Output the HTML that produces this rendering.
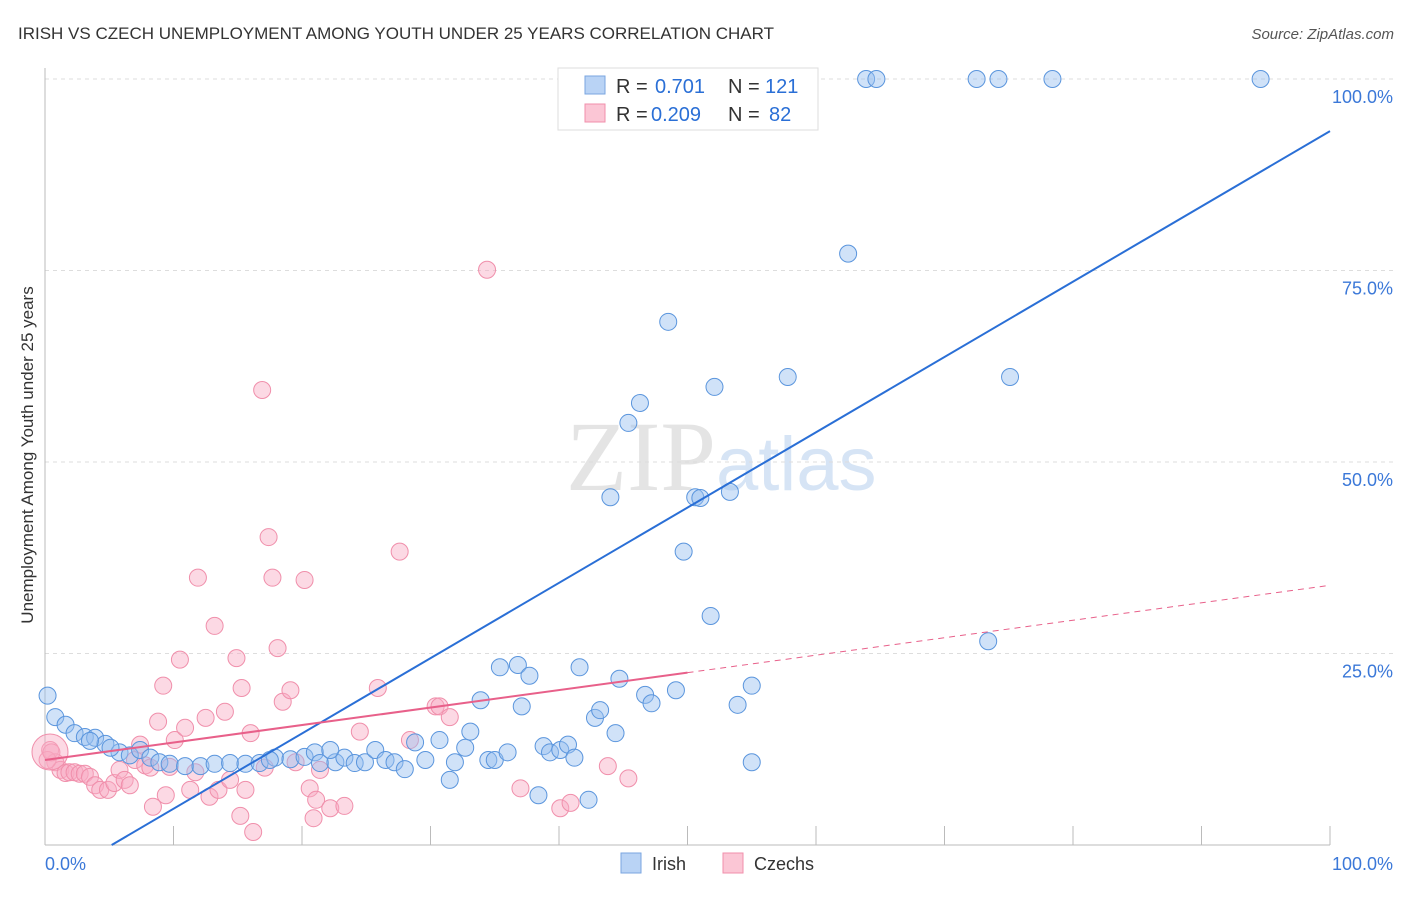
<!DOCTYPE html>
<html><head><meta charset="utf-8"><style>
body{margin:0;background:#fff;font-family:"Liberation Sans",sans-serif}
</style></head><body>
<svg id="c" width="1406" height="892" xmlns="http://www.w3.org/2000/svg">
<text x="18" y="39" font-size="17" fill="#333">IRISH VS CZECH UNEMPLOYMENT AMONG YOUTH UNDER 25 YEARS CORRELATION CHART</text>
<text x="1394" y="39" font-size="15" fill="#555" text-anchor="end" font-style="italic">Source: ZipAtlas.com</text>
<text x="716" y="490" font-size="100" fill="#e4e4e4" text-anchor="end" font-family="Liberation Serif">ZIP</text>
<text x="716" y="490" font-size="76" fill="#d6e4f5">atlas</text>
<text x="33" y="455" font-size="17" fill="#333" text-anchor="middle" transform="rotate(-90 33 455)">Unemployment Among Youth under 25 years</text>
<g id="grid"></g><g id="pts"></g><g id="lines"></g>
<g>
<rect x="558" y="68" width="260" height="62" fill="#fff" stroke="#ddd"/>
<rect x="585" y="76" width="20" height="18" fill="#b9d3f5" stroke="#7aa6e0"/>
<rect x="585" y="104" width="20" height="18" fill="#fbc6d5" stroke="#f08fab"/>
<text x="616" y="93" font-size="20" fill="#333">R = </text><text x="655" y="93" font-size="20" fill="#2a6fd6">0.701</text>
<text x="728" y="93" font-size="20" fill="#333">N = </text><text x="765" y="93" font-size="20" fill="#2a6fd6">121</text>
<text x="616" y="121" font-size="20" fill="#333">R = </text><text x="651" y="121" font-size="20" fill="#2a6fd6">0.209</text>
<text x="728" y="121" font-size="20" fill="#333">N = </text><text x="769" y="121" font-size="20" fill="#2a6fd6">82</text>
</g>
<g>
<rect x="621" y="853" width="20" height="20" fill="#b9d3f5" stroke="#7aa6e0"/>
<text x="652" y="870" font-size="18" fill="#333">Irish</text>
<rect x="723" y="853" width="20" height="20" fill="#fbc6d5" stroke="#f08fab"/>
<text x="754" y="870" font-size="18" fill="#333">Czechs</text>
</g>
</svg>
<script>
const yTicks=[25,50,75,100];
const xTickCount=10;
const bluePx=[[48,696],[55,717],[65,725],[75,733],[85,737],[95,738],[105,744],[120,752],[130,755],[140,750],[150,758],[160,762],[170,764],[185,766],[200,766],[215,764],[230,763],[245,764],[260,763],[275,758],[290,759],[305,757],[315,752],[320,763],[335,762],[345,758],[355,763],[365,762],[375,750],[385,760],[395,762],[405,769],[415,742],[425,760],[440,740],[450,780],[455,762],[465,748],[470,732],[480,700],[488,760],[495,760],[500,667],[508,752],[518,665],[522,706],[530,676],[538,795],[543,746],[550,752],[560,750],[568,745],[575,758],[580,667],[588,800],[595,718],[600,710],[615,733],[620,679],[628,423],[640,403],[645,695],[652,703],[668,322],[676,690],[684,552],[695,497],[700,498],[710,616],[715,387],[730,492],[738,705],[745,82],[752,686],[752,762],[788,377],[848,254],[866,79],[877,79],[977,79],[999,79],[1010,377],[1052,79],[1261,79],[988,641],[660,79],[765,79],[610,497],[110,748],[90,741],[270,760],[330,750]];
const pinkPx=[[50,750],[55,762],[60,770],[65,773],[70,772],[75,772],[80,774],[85,774],[90,777],[95,785],[100,790],[108,790],[115,783],[120,770],[125,780],[130,785],[135,760],[140,745],[145,765],[150,768],[153,807],[158,722],[163,686],[166,795],[170,767],[175,740],[180,660],[185,728],[190,790],[195,772],[198,578],[205,718],[210,797],[215,626],[218,790],[225,712],[230,780],[236,658],[240,816],[242,688],[245,790],[250,733],[253,832],[262,390],[265,768],[268,537],[272,578],[278,648],[283,702],[290,690],[295,762],[305,580],[310,788],[313,818],[316,800],[320,770],[330,808],[345,806],[360,732],[378,688],[400,552],[410,740],[435,706],[440,706],[450,717],[487,270],[520,788],[560,808],[570,803],[608,766],[628,778],[48,760],[52,752]];
const blueX=bluePx.map(p=>+((p[0]-45)/12.85).toFixed(1)), blueY=bluePx.map(p=>+((845-p[1])/7.66).toFixed(1));
const pinkX=pinkPx.map(p=>+((p[0]-45)/12.85).toFixed(1)), pinkY=pinkPx.map(p=>+((845-p[1])/7.66).toFixed(1));
const blueTrend=[-5.1,93.2];
const pinkTrend=[11.1,33.9];
const pinkSolidEnd=50;
const X=v=>45+v*12.85, Y=v=>845-v*7.66;
const NS='http://www.w3.org/2000/svg';
function mk(t,a,p){const e=document.createElementNS(NS,t);for(const k in a)e.setAttribute(k,a[k]);p.appendChild(e);return e;}
const g=document.getElementById('grid');
yTicks.forEach(t=>{
 const l=mk('line',{x1:45,x2:1394,y1:Y(t),y2:Y(t),stroke:'#ddd','stroke-dasharray':'4,4'},g);
 
 
 const tx=mk('text',{x:1393,y:Y(t)+24,'font-size':18,fill:'#3b78d8','text-anchor':'end'},g);tx.textContent=t.toFixed(1)+'%';
 
 
});
mk('line',{x1:45,x2:45,y1:68,y2:845,stroke:'#bbb'},g);
mk('line',{x1:45,x2:1330,y1:845,y2:845,stroke:'#bbb'},g);
for(let i=1;i<=xTickCount;i++){const t=mk('line',{x1:X(i*10),x2:X(i*10),y1:826,y2:845,stroke:'#bbb'},g);
 
 }
[[0,'0.0%','start',45],[100,'100.0%','end',1393]].forEach(a=>{const t=mk('text',{x:a[3],y:870,'font-size':18,fill:'#3b78d8','text-anchor':a[2]},g);t.textContent=a[1];
 
 });
const P=document.getElementById('pts');
pinkX.forEach((x,i)=>{const c=mk('circle',{cx:X(x),cy:Y(pinkY[i]),r:8.5,fill:'rgba(248,170,195,0.45)',stroke:'#f08fab','stroke-width':1},P);
 
 });
const big=mk('circle',{cx:50,cy:752,r:18,fill:'rgba(248,170,195,0.45)',stroke:'#f08fab'},P);


blueX.forEach((x,i)=>{const c=mk('circle',{cx:X(x),cy:Y(blueY[i]),r:8.5,fill:'rgba(150,190,240,0.45)',stroke:'#5a95dd','stroke-width':1},P);
 
 });
const L=document.getElementById('lines');
const x0=(0-blueTrend[0])/(blueTrend[1]-blueTrend[0])*100;
const bl=mk('line',{x1:X(x0),y1:Y(0),x2:X(100),y2:Y(blueTrend[1]),stroke:'#2a6fd6','stroke-width':2},L);


const pv=x=>pinkTrend[0]+(pinkTrend[1]-pinkTrend[0])*x/100;
const pl=mk('line',{x1:X(0),y1:Y(pv(0)),x2:X(pinkSolidEnd),y2:Y(pv(pinkSolidEnd)),stroke:'#e8608a','stroke-width':2},L);


const pd=mk('line',{x1:X(pinkSolidEnd),y1:Y(pv(pinkSolidEnd)),x2:X(100),y2:Y(pv(100)),stroke:'#e8608a','stroke-width':1,'stroke-dasharray':'6,5'},L);


</script>
</body></html>
